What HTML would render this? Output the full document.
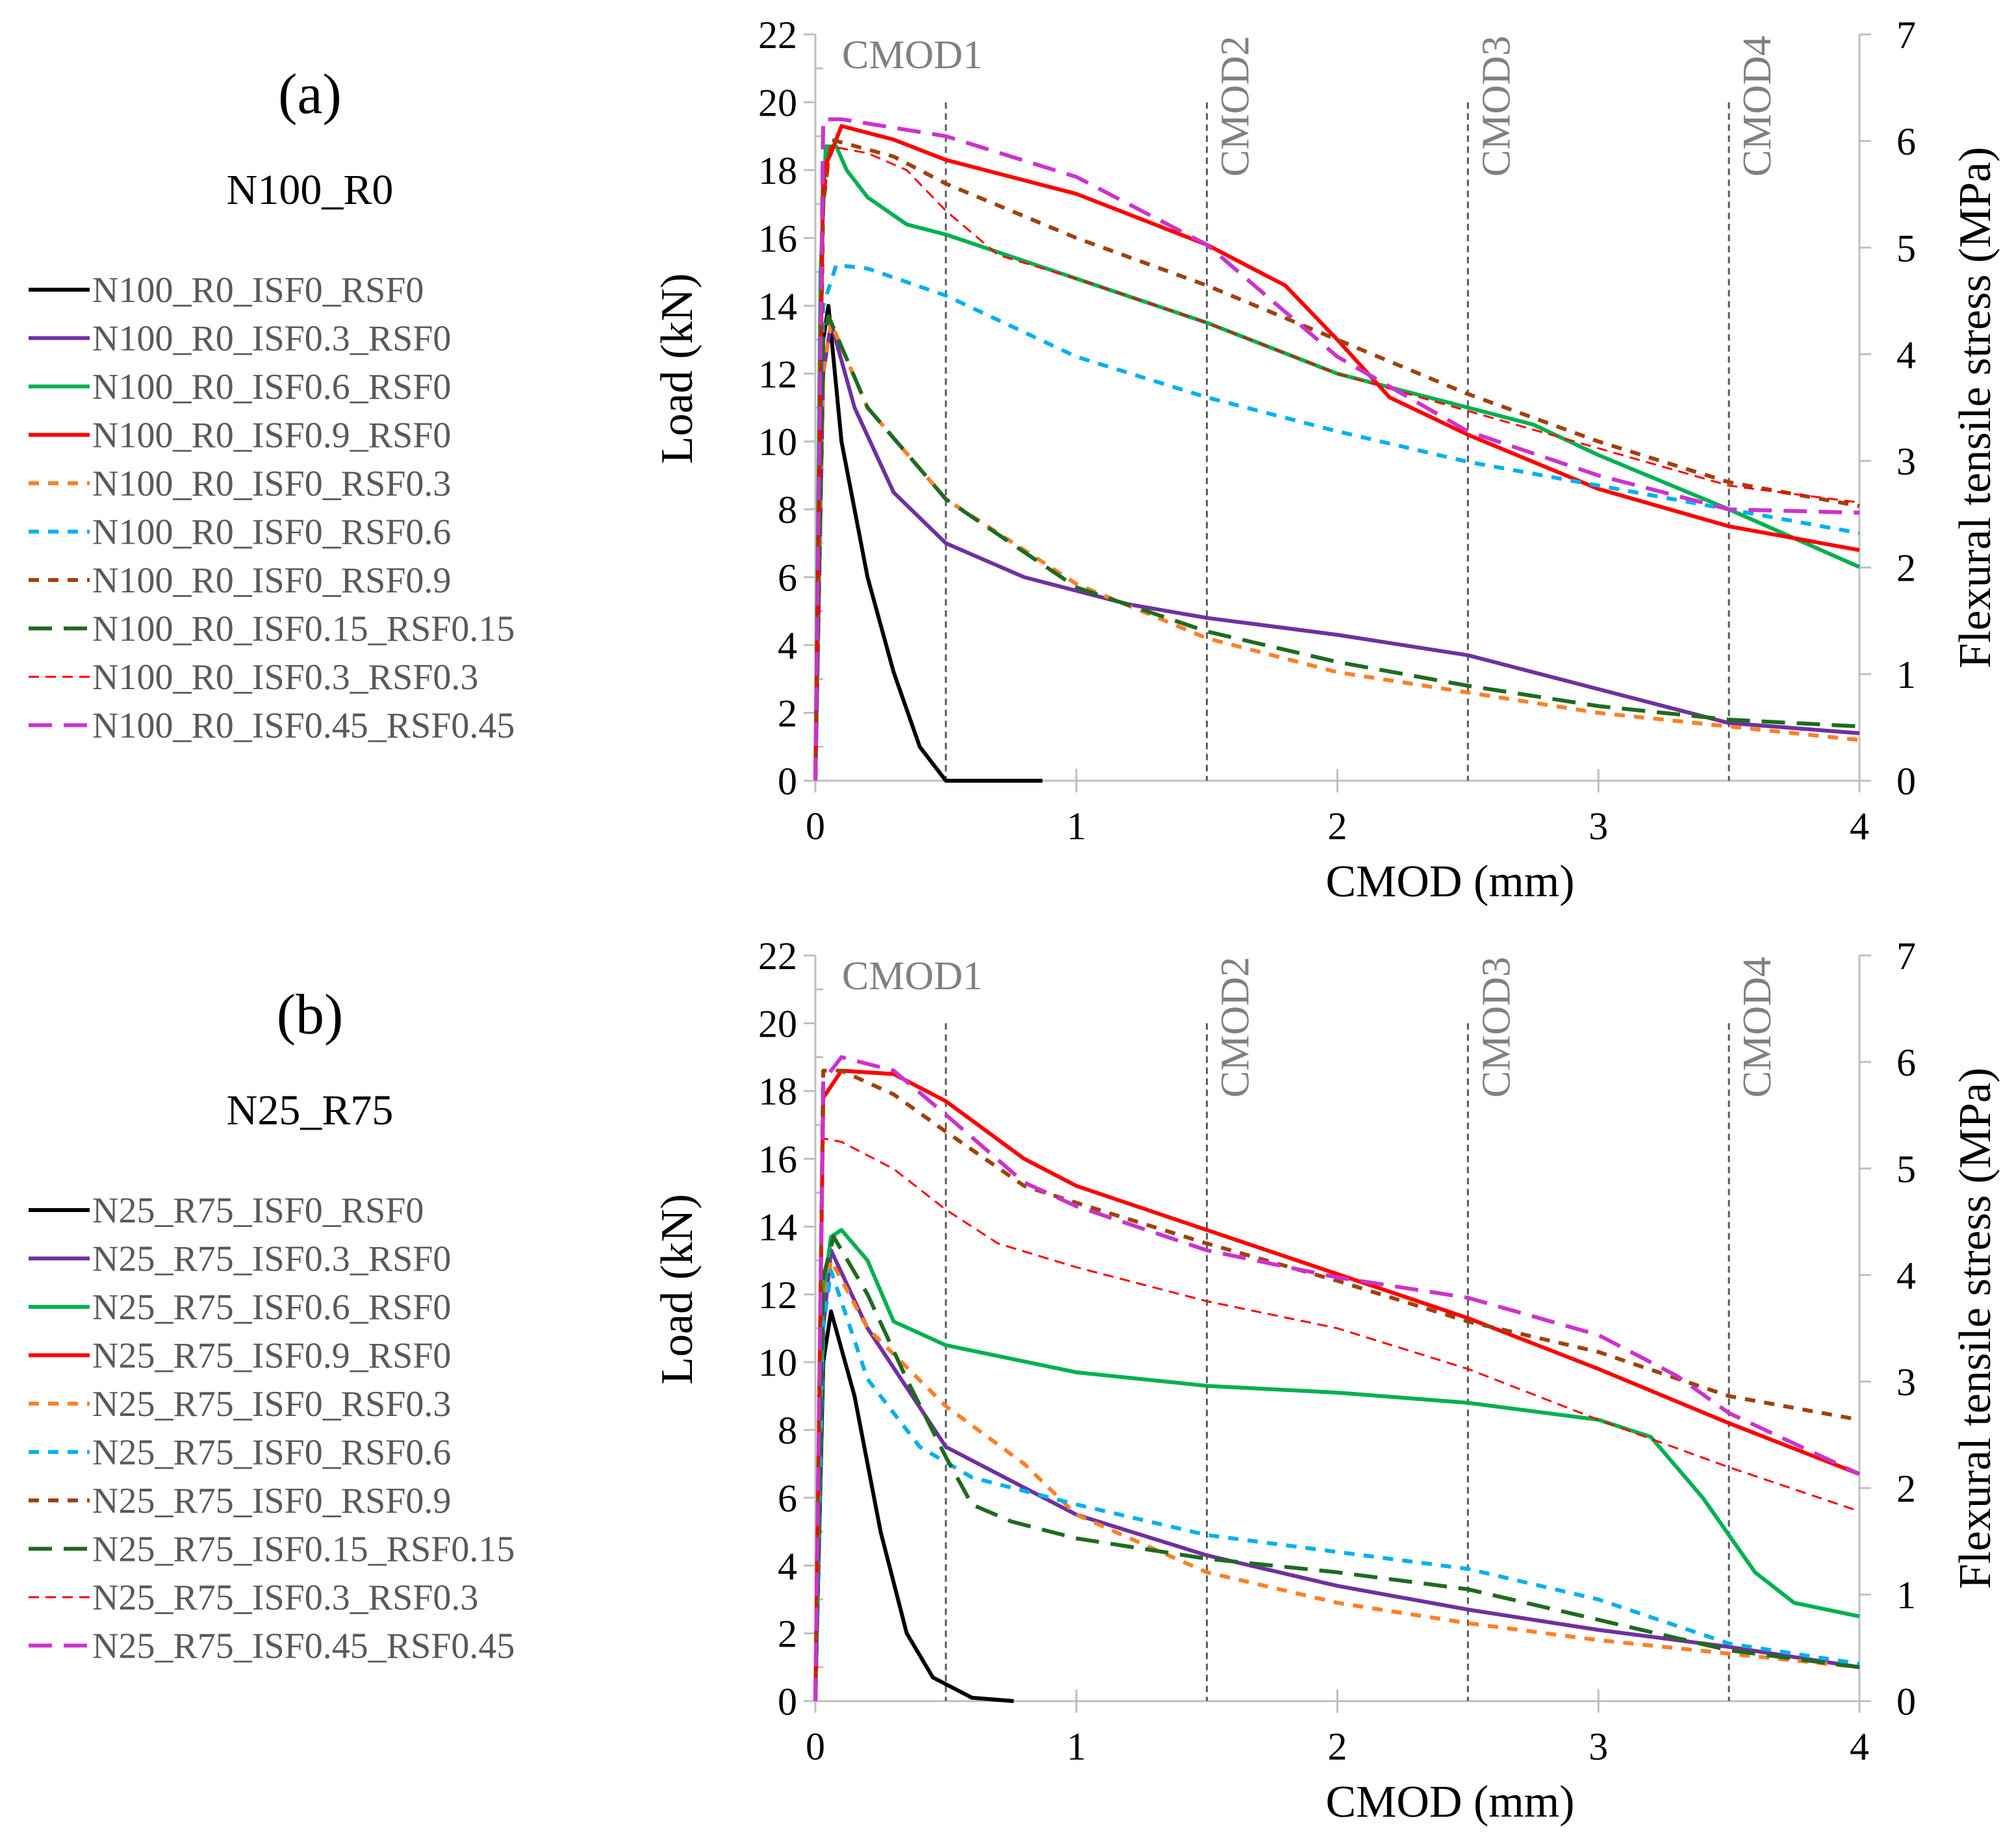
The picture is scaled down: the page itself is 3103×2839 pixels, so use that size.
<!DOCTYPE html>
<html><head><meta charset="utf-8"><style>
html,body{margin:0;padding:0;background:#fff;}
svg{display:block;}
svg text{font-family:"Liberation Serif","DejaVu Serif",serif;}
</style></head><body>
<svg id="fig" width="3103" height="2839" viewBox="0 0 3103 2839" xmlns="http://www.w3.org/2000/svg" font-family="Liberation Serif, DejaVu Serif, serif"></svg>
<script>
const seriesNames = ["ISF0_RSF0","ISF0.3_RSF0","ISF0.6_RSF0","ISF0.9_RSF0","ISF0_RSF0.3","ISF0_RSF0.6","ISF0_RSF0.9","ISF0.15_RSF0.15","ISF0.3_RSF0.3","ISF0.45_RSF0.45"];
const xTicks = [0,1,2,3,4];
const yTicks = [0,2,4,6,8,10,12,14,16,18,20,22];
const y2Ticks = [0,1,2,3,4,5,6,7];
const cmodLines = [0.5,1.5,2.5,3.5];
const cmodLabels = ["CMOD1","CMOD2","CMOD3","CMOD4"];

const dataA_x = [
[0,0.03,0.05,0.1,0.2,0.3,0.4,0.5,0.87],
[0,0.03,0.06,0.15,0.3,0.5,0.8,1.2,1.5,2,2.5,3,3.5,4],
[0,0.02,0.04,0.08,0.12,0.2,0.35,0.5,1,1.5,2,2.5,2.75,3,3.5,4],
[0,0.03,0.06,0.1,0.3,0.5,1,1.5,1.8,2,2.2,2.5,3,3.5,4],
[0,0.03,0.06,0.2,0.5,1,1.5,2,2.5,3,3.5,4],
[0,0.03,0.08,0.2,0.5,1,1.5,2,2.5,3,3.5,4],
[0,0.03,0.06,0.3,0.5,1,1.5,2,2.5,3,3.5,4],
[0,0.03,0.05,0.2,0.5,1,1.5,2,2.5,3,3.5,4],
[0,0.03,0.06,0.2,0.35,0.5,0.7,1,1.5,2,2.5,3,3.5,4],
[0,0.03,0.1,0.5,1,1.5,2,2.5,3,3.5,4]];
const dataA_y = [
[0,13,14,10,6,3.2,1,0,0],
[0,12,13.5,11,8.5,7,6,5.2,4.8,4.3,3.7,2.7,1.7,1.4],
[0,15,18.7,18.7,18,17.2,16.4,16.1,14.8,13.5,12,11,10.5,9.6,8,6.3],
[0,18,18.5,19.3,18.9,18.3,17.3,15.8,14.6,13,11.3,10.2,8.6,7.5,6.8],
[0,12,13.5,11,8.3,5.8,4.2,3.2,2.6,2,1.6,1.2],
[0,14,15.2,15.1,14.3,12.5,11.3,10.3,9.4,8.7,8,7.3],
[0,17,18.9,18.4,17.6,16,14.6,13,11.4,10,8.8,8.1],
[0,13,13.7,11,8.3,5.7,4.4,3.5,2.8,2.2,1.8,1.6],
[0,17,18.7,18.5,18,16.8,15.5,14.8,13.5,12,10.9,9.8,8.7,8.2],
[0,19.5,19.5,19,17.8,15.8,12.5,10.3,9,8,7.9]];

const dataB_x = [
[0,0.03,0.06,0.15,0.25,0.35,0.45,0.6,0.76],
[0,0.03,0.06,0.2,0.5,0.8,1,1.5,2,2.5,3,3.5,4],
[0,0.03,0.06,0.1,0.2,0.3,0.5,1,1.5,2,2.5,3,3.2,3.4,3.6,3.75,4],
[0,0.03,0.1,0.3,0.5,0.8,1,1.5,2,2.5,3,3.5,4],
[0,0.03,0.06,0.2,0.5,0.8,1,1.5,2,2.5,3,3.5,4],
[0,0.03,0.06,0.2,0.4,0.6,1,1.5,2,2.5,3,3.5,4],
[0,0.03,0.1,0.3,0.5,0.8,1,1.5,2,2.5,3,3.5,4],
[0,0.03,0.07,0.2,0.35,0.5,0.6,0.75,1,1.5,2,2.5,3,3.5,4],
[0,0.03,0.1,0.3,0.5,0.7,1,1.5,2,2.5,3,3.5,4],
[0,0.03,0.1,0.3,0.5,0.8,1,1.5,2,2.5,3,3.3,3.5,4]];
const dataB_y = [
[0,10,11.5,9,5,2,0.7,0.1,0],
[0,11,13.3,11,7.5,6.3,5.5,4.3,3.4,2.7,2.1,1.6,1],
[0,12,13.7,13.9,13,11.2,10.5,9.7,9.3,9.1,8.8,8.3,7.8,6,3.8,2.9,2.5],
[0,17.8,18.6,18.5,17.7,16,15.2,13.9,12.6,11.3,9.8,8.2,6.7],
[0,11.5,13,11,8.7,7,5.5,3.8,2.9,2.3,1.8,1.4,1],
[0,11,12.7,9.5,7.5,6.6,5.8,4.9,4.4,3.9,3,1.7,1.1],
[0,18.6,18.6,17.9,16.8,15.2,14.7,13.5,12.4,11.2,10.3,9,8.3],
[0,12.5,13.7,12,9.5,7.2,5.8,5.3,4.8,4.2,3.8,3.3,2.4,1.5,1],
[0,16.6,16.5,15.7,14.5,13.5,12.8,11.8,11,9.8,8.3,6.9,5.6],
[0,18.3,19,18.6,17.3,15.3,14.6,13.3,12.5,11.9,10.8,9.6,8.5,6.7]];

const styles = [
{c:"#000000",w:6,d:""},
{c:"#7030a0",w:6,d:""},
{c:"#00b050",w:6,d:""},
{c:"#ff0000",w:6,d:""},
{c:"#ff7f27",w:6,d:"16,14"},
{c:"#00b0f0",w:6,d:"16,14"},
{c:"#a0410d",w:6,d:"16,14"},
{c:"#1e6b1e",w:6,d:"36,18"},
{c:"#ff0000",w:3,d:"16,10"},
{c:"#cc33cc",w:6,d:"36,18"}];

const NS="http://www.w3.org/2000/svg";
const FF='"Liberation Serif","DejaVu Serif",serif';
const svg=document.getElementById('fig');
function el(tag,attrs,parent){const e=document.createElementNS(NS,tag);for(const k in attrs)e.setAttribute(k,attrs[k]);if(tag==='text')e.style.fontFamily=FF;(parent||svg).appendChild(e);return e;}

function panel(pid, top, bot, xs, ys, letter, title, prefix, legTop){
  const g=el('g',{});
  
  
  const X0=1255,X4=2862;
  const sx=v=>X0+(X4-X0)*v/4;
  const sy=v=>bot-(bot-top)*v/22;
  const ax=el('path',{d:`M${X0} ${top}V${bot}H${X4}V${top}`,stroke:'#bfbfbf','stroke-width':3,fill:'none'},g);
  
  
  yTicks.forEach(v=>{
    el('line',{x1:X0-18,x2:X0,y1:sy(v),y2:sy(v),stroke:'#bfbfbf','stroke-width':3},g);
    if(v>0){el('line',{x1:X0,x2:X0+12,y1:sy(v-1),y2:sy(v-1),stroke:'#bfbfbf','stroke-width':3},g);}
    const tx=el('text',{x:X0-28,y:sy(v)+21,'text-anchor':'end','font-size':60,fill:'#000'},g);
    tx.textContent=v;
    
    
  });
  y2Ticks.forEach(v=>{
    const yy=bot-(bot-top)*v/7;
    el('line',{x1:X4,x2:X4+18,y1:yy,y2:yy,stroke:'#bfbfbf','stroke-width':3},g);
    const tx=el('text',{x:X4+72,y:yy+21,'text-anchor':'middle','font-size':60,fill:'#000'},g);
    tx.textContent=v;
    
    
  });
  xTicks.forEach(v=>{
    el('line',{x1:sx(v),x2:sx(v),y1:bot-18,y2:bot+18,stroke:'#bfbfbf','stroke-width':3},g);
    const tx=el('text',{x:sx(v),y:bot+90,'text-anchor':'middle','font-size':60,fill:'#000'},g);
    tx.textContent=v;
    
    
  });
  cmodLines.forEach((v,i)=>{
    const ln=el('line',{x1:sx(v),x2:sx(v),y1:sy(20),y2:bot,stroke:'#595959','stroke-width':3,'stroke-dasharray':'10,7'},g);
    
    
    let tx;
    if(i===0){tx=el('text',{x:sx(v)-160,y:top+52,'font-size':62,fill:'#808080'},g);}
    else{const xx=sx(v)+64,yy=top+2;tx=el('text',{x:xx,y:yy,'text-anchor':'end','font-size':62,fill:'#808080',transform:`rotate(-90 ${xx} ${yy})`},g);}
    tx.textContent=cmodLabels[i];
    
    
  });
  for(let s=0;s<xs.length;s++){
    const d=xs[s].map((x,i)=>(i?'L':'M')+sx(x).toFixed(1)+' '+sy(ys[s][i]).toFixed(1)).join('');
    const p=el('path',{d:d,fill:'none',stroke:styles[s].c,'stroke-width':styles[s].w,'stroke-dasharray':styles[s].d,'stroke-linejoin':'round'},g);
    
    
  }
  const yt=el('text',{x:0,y:0,'text-anchor':'middle','font-size':70,fill:'#000',transform:`translate(1065 ${(top+bot)/2-60}) rotate(-90)`},g);
  yt.textContent='Load (kN)';
  
  
  const y2=el('text',{x:0,y:0,'text-anchor':'middle','font-size':70,fill:'#000',transform:`translate(3063 ${(top+bot)/2}) rotate(-90)`},g);
  y2.textContent='Flexural tensile stress (MPa)';
  
  
  const xt=el('text',{x:2232,y:bot+178,'text-anchor':'middle','font-size':70,fill:'#000'},g);
  xt.textContent='CMOD (mm)';
  
  
  const lt=el('text',{x:477,y:legTop-272,'text-anchor':'middle','font-size':88,fill:'#000'},g);
  lt.textContent=letter;
  
  
  const tt=el('text',{x:477,y:legTop-132,'text-anchor':'middle','font-size':66,fill:'#000'},g);
  tt.textContent=title;
  
  
  for(let s=0;s<seriesNames.length;s++){
    const yy=legTop+s*74.5;
    const lg=el('g',{},g);
    
    
    el('line',{x1:44,x2:138,y1:yy,y2:yy,stroke:styles[s].c,'stroke-width':styles[s].w,'stroke-dasharray':styles[s].d},lg);
    const tx=el('text',{x:142,y:yy+19,'font-size':56,fill:'#595959'},lg);
    tx.textContent=prefix+'_'+seriesNames[s];
  }
}
panel('a',53,1202,dataA_x,dataA_y,'(a)','N100_R0','N100_R0',446);
panel('b',1471,2619,dataB_x,dataB_y,'(b)','N25_R75','N25_R75',1863);
</script>
</body></html>
